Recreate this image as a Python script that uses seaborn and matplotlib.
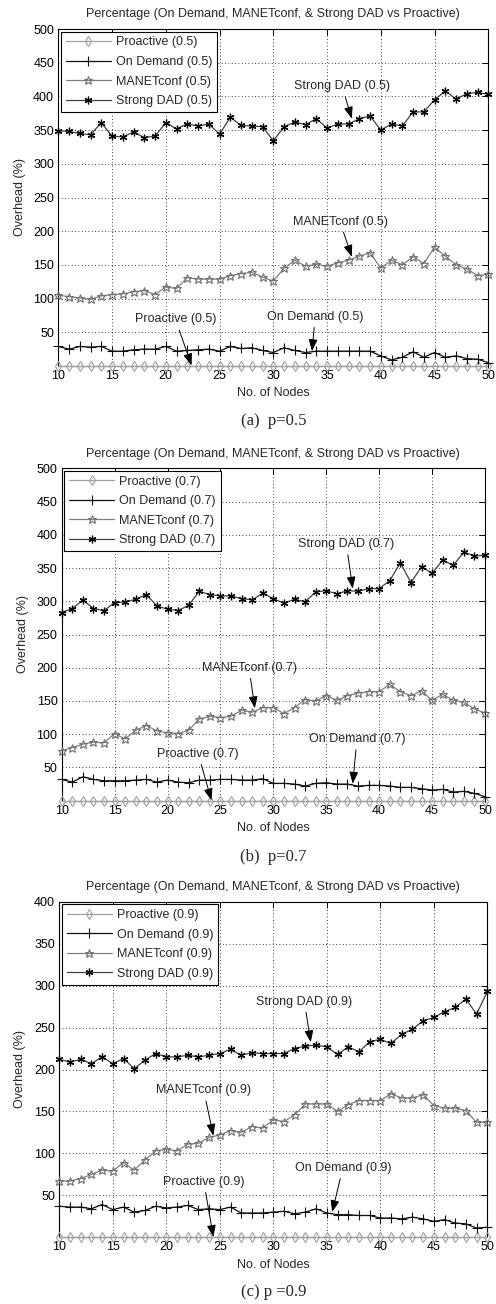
import matplotlib
matplotlib.use("Agg")
import matplotlib.pyplot as plt
import seaborn as sns
import numpy as np

nodes = list(range(10, 51))

p05_proactive = [0] * 41
p05_ondemand = [29, 25, 29, 28, 29, 22, 22, 24, 25, 25,
                29, 22, 23, 24, 25, 22, 29, 26, 27, 23,
                20, 27, 23, 20, 22, 22, 22, 22, 22, 22,
                15, 9, 13, 21, 13, 20, 13, 15, 11, 10, 5]
p05_manet = [105, 103, 101, 99, 104, 106, 107, 110, 112, 106,
             117, 115, 131, 129, 129, 129, 134, 137, 139, 132,
             126, 145, 157, 148, 151, 148, 153, 157, 163, 168,
             145, 157, 150, 162, 152, 176, 163, 150, 144, 134, 136]
p05_strong = [349, 348, 345, 343, 361, 341, 340, 347, 339, 341,
              361, 352, 359, 356, 359, 344, 369, 357, 356, 355,
              334, 355, 362, 358, 367, 353, 359, 359, 367, 371,
              350, 359, 356, 377, 377, 395, 408, 396, 404, 406, 403]

p07_proactive = [0] * 41
p07_ondemand = [32, 28, 36, 32, 30, 30, 30, 31, 32, 28,
                31, 28, 27, 31, 31, 32, 32, 31, 31, 33,
                26, 26, 25, 22, 26, 27, 25, 25, 22, 23,
                23, 22, 20, 20, 18, 16, 17, 13, 14, 11, 6]
p07_manet = [75, 80, 85, 88, 87, 101, 93, 106, 113, 105,
             102, 101, 106, 123, 127, 125, 127, 136, 133, 140,
             140, 131, 140, 152, 150, 158, 151, 158, 162, 164,
             164, 175, 164, 158, 165, 151, 160, 151, 148, 138, 132]
p07_strong = [283, 289, 302, 289, 286, 298, 299, 303, 310, 293,
              288, 286, 294, 315, 310, 308, 308, 304, 302, 312,
              304, 297, 303, 299, 314, 316, 311, 316, 315, 319,
              319, 331, 358, 328, 352, 342, 362, 354, 374, 368, 369]

p09_proactive = [0] * 41
p09_ondemand = [37, 36, 36, 34, 39, 33, 36, 30, 32, 37,
                35, 36, 38, 33, 34, 33, 36, 29, 29, 29,
                30, 31, 28, 30, 34, 29, 27, 27, 26, 26,
                23, 23, 22, 24, 22, 19, 21, 17, 16, 11, 12]
p09_manet = [67, 67, 70, 75, 80, 79, 89, 80, 92, 103,
             105, 103, 111, 112, 119, 122, 127, 125, 132, 130,
             140, 138, 146, 159, 159, 159, 150, 158, 163, 163,
             163, 171, 166, 166, 170, 157, 154, 154, 151, 137, 137]
p09_strong = [212, 209, 212, 207, 215, 207, 213, 201, 211, 219,
              215, 215, 217, 215, 217, 219, 224, 217, 220, 219,
              219, 219, 225, 228, 229, 227, 218, 227, 221, 233,
              236, 231, 242, 248, 258, 262, 269, 274, 284, 266, 293]

series_names = ["Proactive", "On Demand", "MANETconf", "Strong DAD"]
p_labels = ["0.5", "0.7", "0.9"]
captions = ["(a)  p=0.5", "(b)  p=0.7", "(c) p =0.9"]
title_text = "Percentage (On Demand, MANETconf, & Strong DAD vs Proactive)"
xticks = list(range(10, 51, 5))
y_max = [500, 500, 400]

sns.set_theme(style="white")
plt.rcParams["font.family"] = ["Liberation Sans", "DejaVu Sans"]

W, H = 496, 1304
fig = plt.figure(figsize=(W / 100, H / 100), dpi=100)

# axes boxes in pixel coordinates: left, right, top, bottom
boxes = [(58.3, 488.3, 29.0, 366.0),
         (61.7, 485.0, 468.3, 800.7),
         (59.3, 487.3, 901.7, 1237.3)]
title_y = [14, 454.3, 886.7]
xlabel_y = [393, 828, 1265]
caption_y = [421, 857, 1292]
ylabel_x = [20, 23, 20]

styles = [
    dict(color="#a0a0a0", marker="d", markersize=5.0, markerfacecolor="none",
         markeredgecolor="#a0a0a0", markeredgewidth=0.8, linewidth=0.9),
    dict(color="#111111", marker="+", markersize=6.5, markeredgecolor="#111111",
         markeredgewidth=0.8, linewidth=0.9),
    dict(color="#808080", marker="*", markersize=6.3, markerfacecolor="none",
         markeredgecolor="#707070", markeredgewidth=0.8, linewidth=0.9),
    dict(color="#404040", marker=(6, 2, 0), markersize=5.5, markeredgecolor="#000000",
         markeredgewidth=0.9, linewidth=0.9),
]

data = [
    [p05_proactive, p05_ondemand, p05_manet, p05_strong],
    [p07_proactive, p07_ondemand, p07_manet, p07_strong],
    [p09_proactive, p09_ondemand, p09_manet, p09_strong],
]

# annotation: (series index, text xy, arrow tip xy)
annots = [
    [(3, (36.4, 415), (37.3, 367)), (2, (36.2, 214), (37.3, 162)),
     (0, (20.9, 69), (22.4, 1)), (1, (33.9, 73), (33.6, 22))],
    [(3, (36.9, 386), (37.5, 319)), (2, (27.7, 200), (28.25, 139)),
     (0, (22.9, 70.5), (24.15, 0.5)), (1, (37.9, 92.6), (37.5, 25.5))],
    [(3, (32.9, 281), (33.5, 232.5)), (2, (23.5, 175), (24.4, 121)),
     (0, (23.5, 66), (24.4, 0.4)), (1, (36.5, 82.5), (35.5, 30))],
]

fs = 9
for i in range(3):
    l, r, t, b = boxes[i]
    ax = fig.add_axes([l / W, 1 - b / H, (r - l) / W, (b - t) / H])
    for k in range(4):
        lab = f"{series_names[k]} ({p_labels[i]})"
        sns.lineplot(x=nodes, y=data[i][k], ax=ax, errorbar=None, label=lab,
                     clip_on=False, zorder=3 + k, **styles[k])
    ax.set_xlim(10, 50)
    ax.set_ylim(0, y_max[i])
    ax.set_xticks(xticks)
    ax.set_yticks(list(range(50, y_max[i] + 1, 50)))
    ax.tick_params(axis="both", which="both", direction="in", length=4, width=0.7,
                   top=True, right=True, labelsize=fs, pad=3, colors="black")
    ax.grid(True, linestyle=(0, (1, 3)), color="black", linewidth=0.6)
    for sp in ax.spines.values():
        sp.set_visible(True)
        sp.set_color("black")
        sp.set_linewidth(0.8)
    ax.set_xlabel("")
    ax.set_ylabel("")
    hs, ls = ax.get_legend_handles_labels()
    leg = ax.legend(hs, ls, loc="upper left", fontsize=fs, frameon=True, fancybox=False,
                    edgecolor="black", framealpha=1, borderaxespad=0.2,
                    handlelength=3.6, labelspacing=0.6, borderpad=0.4, handletextpad=0.4)
    leg.get_frame().set_linewidth(0.8)
    leg.set_zorder(10)
    for k, txy, tip in annots[i]:
        ax.annotate(f"{series_names[k]} ({p_labels[i]})", xy=tip, xytext=txy,
                    textcoords="data", ha="center", va="center", fontsize=fs, zorder=9,
                    arrowprops=dict(arrowstyle="-|>,head_length=0.8,head_width=0.3",
                                    color="black", lw=0.7, shrinkA=1, shrinkB=0))
    cx = (l + r) / 2 / W
    fig.text(cx, 1 - title_y[i] / H, title_text, ha="center", va="center", fontsize=fs)
    fig.text(cx, 1 - xlabel_y[i] / H, "No. of Nodes", ha="center", va="center", fontsize=fs)
    fig.text(ylabel_x[i] / W, 1 - (t + b) / 2 / H, "Overhead (%)", ha="center", va="center",
             rotation=90, fontsize=fs)
    fig.text(cx, 1 - caption_y[i] / H, captions[i], ha="center", va="center", fontsize=12,
             family=["Liberation Serif", "DejaVu Serif"])

fig.savefig("out.png", dpi=100)
